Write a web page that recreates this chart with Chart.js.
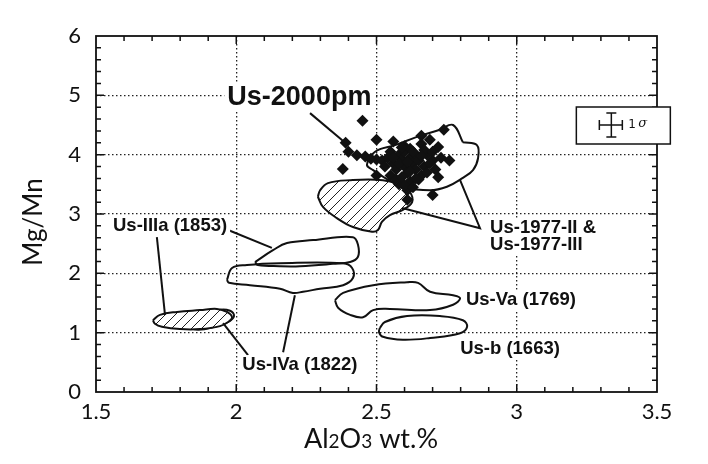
<!DOCTYPE html>
<html lang="en">
<head>
<meta charset="UTF-8">
<title>Mg/Mn vs Al2O3</title>
<style>
    html, body { margin: 0; padding: 0; background: #fff; }
    #wrap { width: 708px; height: 464px; }
</style>
<script src="https://cdn.jsdelivr.net/npm/chart.js"></script>
</head>
<body>
<div id="wrap"><canvas id="chart" width="708" height="464"></canvas></div>
<script>
// tick labels
const xTickLabels = ['1.5', '2', '2.5', '3', '3.5'];
const yTickLabels = ['0', '1', '2', '3', '4', '5', '6'];

// Us-2000pm analyses [Al2O3, Mg/Mn]
const us2000pm = [
    [2.45, 4.57], [2.39, 4.20], [2.50, 4.25], [2.38, 3.76], [2.40, 4.05], [2.43, 3.99],
    [2.46, 3.97], [2.48, 3.93], [2.50, 3.92], [2.74, 4.42], [2.66, 4.32], [2.76, 3.90],
    [2.70, 3.32], [2.61, 3.24], [2.61, 3.40], [2.72, 3.62], [2.50, 3.65], [2.58, 3.50],
    [2.56, 4.22], [2.60, 4.14], [2.72, 4.13],
    [2.52, 3.90], [2.54, 3.95], [2.55, 4.05], [2.56, 3.85], [2.57, 3.75], [2.58, 4.00],
    [2.59, 3.92], [2.60, 3.80], [2.60, 4.05], [2.61, 3.70], [2.62, 3.95], [2.62, 4.10],
    [2.63, 3.85], [2.64, 3.75], [2.64, 4.00], [2.65, 3.90], [2.66, 4.18], [2.66, 3.65],
    [2.67, 3.80], [2.68, 4.00], [2.68, 3.70], [2.69, 4.25], [2.70, 3.90], [2.55, 3.65],
    [2.57, 3.58], [2.59, 3.62], [2.62, 3.55], [2.53, 3.80], [2.58, 3.85], [2.61, 3.88],
    [2.63, 4.05], [2.65, 3.58], [2.67, 4.08], [2.70, 4.05], [2.71, 3.75], [2.56, 3.95],
    [2.59, 4.12], [2.62, 3.72], [2.64, 3.60], [2.66, 3.98], [2.69, 3.85], [2.73, 3.95],
    [2.60, 3.48], [2.63, 3.45]
];

// field outlines [Al2O3, Mg/Mn]
const us1977Open = [
    [2.808, 4.21], [2.858, 4.16], [2.862, 3.94], [2.844, 3.74], [2.808, 3.61], [2.751, 3.46],
    [2.691, 3.40], [2.594, 3.46], [2.530, 3.61], [2.488, 3.74], [2.466, 3.83], [2.495, 4.05],
    [2.566, 4.16], [2.644, 4.30], [2.726, 4.42], [2.773, 4.50], [2.808, 4.21]
];
const us1977Hatched = [
    [2.291, 3.29], [2.299, 3.40], [2.327, 3.52], [2.406, 3.57], [2.523, 3.57], [2.584, 3.49],
    [2.619, 3.37], [2.627, 3.20], [2.594, 3.07], [2.548, 2.98], [2.520, 2.87], [2.505, 2.73],
    [2.484, 2.70], [2.416, 2.78], [2.359, 2.93], [2.309, 3.12], [2.291, 3.29]
];
const usIIIa = [
    [2.067, 2.19], [2.131, 2.39], [2.181, 2.51], [2.274, 2.56], [2.416, 2.61], [2.434, 2.48],
    [2.434, 2.28], [2.406, 2.19], [2.345, 2.16], [2.227, 2.12], [2.156, 2.12], [2.077, 2.14],
    [2.067, 2.19]
];
const usIVa = [
    [1.967, 1.89], [1.985, 2.09], [2.038, 2.14], [2.156, 2.17], [2.381, 2.17], [2.413, 2.09],
    [2.416, 1.92], [2.381, 1.80], [2.299, 1.74], [2.238, 1.69], [2.202, 1.67], [2.156, 1.74],
    [2.049, 1.80], [1.974, 1.84], [1.967, 1.89]
];
const usIIIaSmall = [
    [1.703, 1.21], [1.728, 1.30], [1.789, 1.35], [1.871, 1.38], [1.931, 1.40], [1.967, 1.35],
    [1.985, 1.26], [1.971, 1.18], [1.942, 1.11], [1.871, 1.06], [1.799, 1.06], [1.735, 1.10],
    [1.710, 1.15], [1.703, 1.21]
];
const usIVaSmall = [
    [1.817, 1.10], [1.871, 1.25], [1.935, 1.38], [1.978, 1.37], [1.992, 1.28], [1.971, 1.18],
    [1.924, 1.10], [1.864, 1.05], [1.817, 1.10]
];
const usVa = [
    [2.352, 1.55], [2.381, 1.67], [2.488, 1.80], [2.609, 1.85], [2.648, 1.84], [2.691, 1.69],
    [2.773, 1.63], [2.798, 1.58], [2.773, 1.47], [2.691, 1.38], [2.548, 1.40], [2.488, 1.38],
    [2.452, 1.26], [2.406, 1.30], [2.363, 1.42], [2.352, 1.55]
];
const usB = [
    [2.512, 1.08], [2.530, 1.18], [2.609, 1.28], [2.726, 1.28], [2.808, 1.21], [2.823, 1.10],
    [2.798, 0.99], [2.691, 0.91], [2.594, 0.88], [2.523, 0.93], [2.509, 1.01], [2.512, 1.08]
];

// leader lines
const leaders = [
    [[2.263, 4.70], [2.381, 4.23]],
    [[1.971, 2.73], [2.127, 2.43]],
    [[1.717, 2.61], [1.746, 1.30]],
    [[2.042, 0.62], [1.953, 1.16]],
    [[2.167, 0.67], [2.209, 1.63]],
    [[2.798, 3.57], [2.869, 2.76], [2.591, 3.10]]
];

// labels
const annotations = [
    { text: 'Us-2000pm', at: [2.225, 4.97], size: 27, align: 'center' },
    { text: 'Us-IIIa (1853)', at: [1.764, 2.80], size: 18.5, align: 'center' },
    { text: 'Us-IVa (1822)', at: [2.227, 0.45], size: 18.5, align: 'center' },
    { text: 'Us-Va (1769)', at: [3.015, 1.55], size: 18.5, align: 'center' },
    { text: 'Us-b (1663)', at: [2.976, 0.72], size: 18.5, align: 'center' },
    { text: 'Us-1977-II &', at: [2.905, 2.76], size: 18.5, align: 'left' },
    { text: 'Us-1977-III', at: [2.905, 2.48], size: 18.5, align: 'left' }
];

const canvas = document.getElementById('chart');
const ctx = canvas.getContext('2d');

// hachures
function makeHatch() {
    const c = document.createElement('canvas');
    c.width = 10; c.height = 10;
    const g = c.getContext('2d');
    g.fillStyle = '#fff';
    g.fillRect(0, 0, 10, 10);
    g.strokeStyle = '#222';
    g.lineWidth = 1;
    g.beginPath();
    g.moveTo(-1, 11); g.lineTo(11, -1);
    g.moveTo(-6, 6); g.lineTo(6, -6);
    g.moveTo(4, 16); g.lineTo(16, 4);
    g.stroke();
    return ctx.createPattern(c, 'repeat');
}
const hatch = makeHatch();

const toXY = arr => arr.map(p => ({ x: p[0], y: p[1] }));

function outline(pts, hatched) {
    return {
        data: toXY(pts),
        showLine: true,
        borderColor: '#111',
        borderWidth: 2,
        tension: 0.4,
        pointRadius: 0,
        fill: hatched ? 'shape' : false,
        backgroundColor: hatched ? hatch : 'transparent',
        order: 2
    };
}

const datasets = [
    {
        data: toXY(us2000pm),
        pointStyle: 'rectRot',
        pointRadius: 6,
        backgroundColor: '#111',
        borderColor: '#111',
        borderWidth: 0,
        showLine: false,
        order: 0
    },
    outline(us1977Open, false),
    outline(us1977Hatched, true),
    outline(usIIIa, false),
    outline(usIVa, false),
    outline(usIIIaSmall, true),
    outline(usIVaSmall, false),
    outline(usVa, false),
    outline(usB, false)
];
leaders.forEach(l => datasets.push({
    data: toXY(l),
    showLine: true,
    borderColor: '#111',
    borderWidth: 2,
    tension: 0,
    pointRadius: 0,
    fill: false,
    order: 1
}));

const decor = {
    id: 'decor',
    afterDatasetsDraw(chart) {
        const { ctx, chartArea: a, scales: { x, y } } = chart;
        ctx.save();

        // ticks vers l'intérieur sur les 4 côtés
        ctx.strokeStyle = '#111';
        ctx.lineWidth = 1.5;
        ctx.beginPath();
        for (let i = 1; i < 20; i++) {
            const px = x.getPixelForValue(1.5 + i * 0.1);
            const len = i % 5 === 0 ? 8 : 5;
            ctx.moveTo(px, a.bottom); ctx.lineTo(px, a.bottom - len);
            ctx.moveTo(px, a.top); ctx.lineTo(px, a.top + len);
        }
        for (let i = 1; i < 30; i++) {
            const py = y.getPixelForValue(i * 0.2);
            const len = i % 5 === 0 ? 8 : 5;
            ctx.moveTo(a.left, py); ctx.lineTo(a.left + len, py);
            ctx.moveTo(a.right, py); ctx.lineTo(a.right - len, py);
        }
        ctx.stroke();

        // cadre
        ctx.lineWidth = 1.8;
        ctx.strokeRect(a.left, a.top, a.right - a.left, a.bottom - a.top);

        // étiquettes
        ctx.textBaseline = 'middle';
        annotations.forEach(t => {
            ctx.font = 'bold ' + t.size + 'px "Liberation Sans", Arial, sans-serif';
            ctx.textAlign = t.align;
            const px = x.getPixelForValue(t.at[0]);
            const py = y.getPixelForValue(t.at[1]);
            const w = ctx.measureText(t.text).width;
            const left = t.align === 'center' ? px - w / 2 : px;
            ctx.fillStyle = '#fff';
            ctx.fillRect(left - 3, py - t.size * 0.55, w + 6, t.size * 1.1);
            ctx.fillStyle = '#111';
            ctx.fillText(t.text, px, py);
        });

        // boîte de l'erreur 1 sigma
        const cx = x.getPixelForValue(3.38);
        const cy = y.getPixelForValue(4.50);
        ctx.fillStyle = '#fff';
        ctx.fillRect(cx - 47, cy - 18, 94, 37);
        ctx.lineWidth = 1.5;
        ctx.strokeRect(cx - 47, cy - 18, 94, 37);
        const ex = cx - 12, ey = cy;
        ctx.lineWidth = 1.5;
        ctx.beginPath();
        ctx.moveTo(ex - 12, ey); ctx.lineTo(ex + 11, ey);
        ctx.moveTo(ex - 12, ey - 5); ctx.lineTo(ex - 12, ey + 5);
        ctx.moveTo(ex + 11, ey - 5); ctx.lineTo(ex + 11, ey + 5);
        ctx.moveTo(ex, ey - 12); ctx.lineTo(ex, ey + 12);
        ctx.moveTo(ex - 5, ey - 12); ctx.lineTo(ex + 5, ey - 12);
        ctx.moveTo(ex - 5, ey + 12); ctx.lineTo(ex + 5, ey + 12);
        ctx.stroke();
        ctx.fillStyle = '#111';
        ctx.textAlign = 'left';
        ctx.font = '12px "DejaVu Sans", sans-serif';
        ctx.fillText('1', ex + 17, ey);
        ctx.font = 'italic 13px "DejaVu Serif", serif';
        ctx.fillText('σ', ex + 27, ey - 1);

        // titres des axes
        ctx.fillStyle = '#111';
        ctx.textBaseline = 'alphabetic';
        const parts = [['Al', 27], ['2', 19], ['O', 27], ['3', 19], [' wt.%', 27]];
        let total = 0;
        parts.forEach(p => { ctx.font = p[1] + 'px Lato, sans-serif'; total += ctx.measureText(p[0]).width; });
        let tx = 371 - total / 2;
        parts.forEach(p => {
            ctx.font = p[1] + 'px Lato, sans-serif';
            ctx.fillText(p[0], tx, 448);
            tx += ctx.measureText(p[0]).width;
        });

        ctx.translate(34, 222);
        ctx.rotate(-Math.PI / 2);
        ctx.textAlign = 'center';
        ctx.textBaseline = 'middle';
        ctx.font = '26px Lato, sans-serif';
        ctx.fillText('Mg/Mn', 0, 0);
        ctx.restore();
    }
};

new Chart(ctx, {
    type: 'scatter',
    data: { datasets },
    options: {
        responsive: false,
        animation: false,
        devicePixelRatio: 1,
        layout: { padding: { top: 36, right: 51, left: 0, bottom: 0 } },
        plugins: { legend: { display: false }, tooltip: { enabled: false } },
        scales: {
            x: {
                type: 'linear',
                min: 1.5, max: 3.5,
                afterFit(s) { s.height = 72; },
                border: { display: false, dash: [1.5, 2.5] },
                grid: {
                    drawTicks: false,
                    lineWidth: 1.3,
                    color: c => (c.tick && (c.tick.value === 1.5 || c.tick.value === 3.5)) ? 'rgba(0,0,0,0)' : '#222'
                },
                ticks: {
                    stepSize: 0.5,
                    padding: 7,
                    color: '#111',
                    font: { family: 'Lato', size: 22 },
                    callback: (v) => xTickLabels[Math.round((v - 1.5) / 0.5)]
                }
            },
            y: {
                type: 'linear',
                min: 0, max: 6,
                afterFit(s) { s.width = 96; },
                border: { display: false, dash: [1.5, 2.5] },
                grid: {
                    drawTicks: false,
                    lineWidth: 1.3,
                    color: c => (c.tick && (c.tick.value === 0 || c.tick.value === 6)) ? 'rgba(0,0,0,0)' : '#222'
                },
                ticks: {
                    stepSize: 1,
                    padding: 15,
                    color: '#111',
                    font: { family: 'Lato', size: 22 },
                    callback: (v) => yTickLabels[Math.round(v)]
                }
            }
        }
    },
    plugins: [decor]
});
</script>
</body>
</html>
